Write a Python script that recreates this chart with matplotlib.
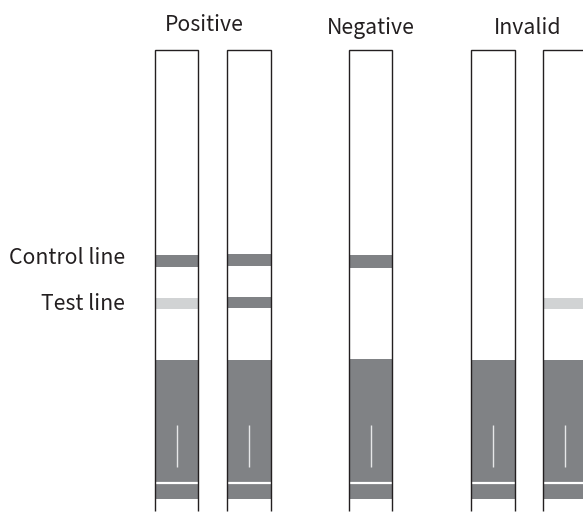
import matplotlib
matplotlib.use("Agg")
import matplotlib.pyplot as plt
from matplotlib.patches import Rectangle

plt.rcParams["font.family"] = ["Noto Sans CJK JP", "DejaVu Sans"]

# everything in pixels, y going down
strip_left = [155, 227, 349, 471, 543]
strip_right = [198, 271, 392, 515, 587]
control_top = [255, 254, 255, None, None]
control_bottom = [267, 266, 268, None, None]
test_top = [298, 297, None, None, 298]
test_bottom = [309, 308, None, None, 309]
test_colors = ["#d1d3d4", "#808285", None, None, "#d1d3d4"]
block_top = [360, 360, 359, 360, 360]
slit_x = [177, 249, 371, 493, 565]
group_labels = ["Positive", "Negative", "Invalid"]
group_x = [204, 371, 527.5]
group_y = [25, 28, 28]
line_labels = ["Control line", "Test line"]
line_label_y = [258, 304]

STRIP_TOP = 50
STRIP_BOTTOM = 511
SLIT_TOP = 425
SLIT_BOTTOM = 467
GAP_Y = 483
BLOCK_BOTTOM = 499
GREY = "#808285"


def main():
    fig = plt.figure(figsize=(5.83, 5.13), dpi=100)
    ax = fig.add_axes([0, 0, 1, 1])
    ax.set_xlim(0, 583)
    ax.set_ylim(513, 0)
    ax.axis("off")

    for i, left in enumerate(strip_left):
        right = strip_right[i]
        width = right - left

        ax.add_patch(Rectangle((left, block_top[i]), width, BLOCK_BOTTOM - block_top[i],
                               color=GREY, lw=0))
        if control_top[i] is not None:
            ax.add_patch(Rectangle((left, control_top[i]), width,
                                   control_bottom[i] - control_top[i], color=GREY, lw=0))
        if test_top[i] is not None:
            ax.add_patch(Rectangle((left, test_top[i]), width,
                                   test_bottom[i] - test_top[i], color=test_colors[i], lw=0))

        ax.plot([left, right], [GAP_Y, GAP_Y], color="white", lw=1.6, solid_capstyle="butt")
        ax.plot([slit_x[i], slit_x[i]], [SLIT_TOP, SLIT_BOTTOM], color="#e6e7e8", lw=1.0,
                solid_capstyle="butt")

        # open at the bottom
        ax.plot([left, left, right, right],
                [STRIP_BOTTOM, STRIP_TOP, STRIP_TOP, STRIP_BOTTOM],
                color="#231f20", lw=1.0, solid_joinstyle="miter", solid_capstyle="butt")

    for label, x, y in zip(group_labels, group_x, group_y):
        ax.text(x, y, label, ha="center", va="center", fontsize=15.3, color="#231f20")
    for label, y in zip(line_labels, line_label_y):
        ax.text(125, y, label, ha="right", va="center", fontsize=15.3, color="#231f20")

    fig.savefig("out.png", dpi=100)


if __name__ == "__main__":
    main()
